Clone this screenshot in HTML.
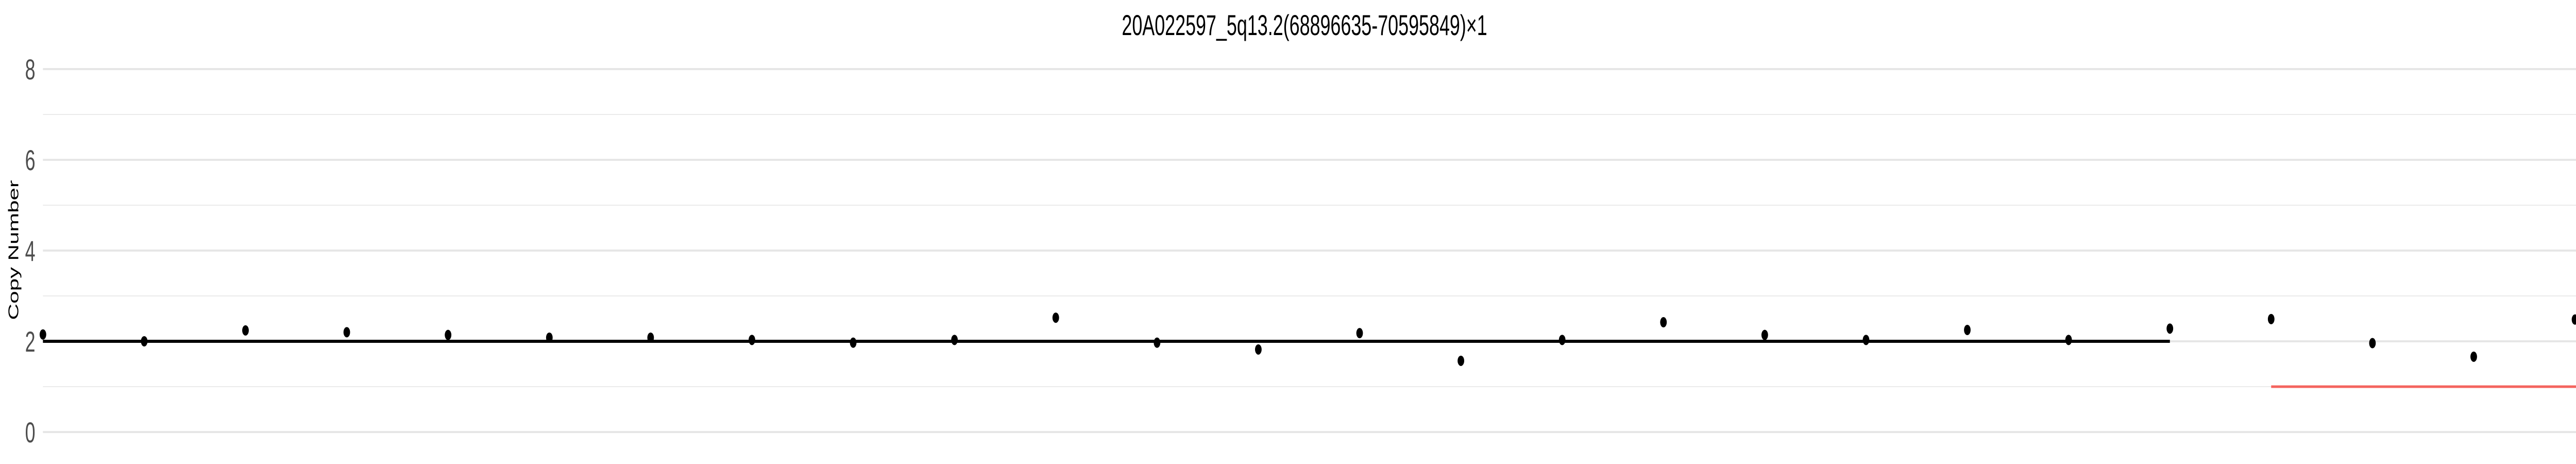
<!DOCTYPE html>
<html><head><meta charset="utf-8"><style>
html,body{margin:0;padding:0;background:#fff;overflow:hidden;width:100%;height:100%;}
svg{display:block;font-family:"Liberation Sans",Arial,sans-serif;width:100vw;height:100vh;}
</style></head><body>
<svg id="chart" viewBox="0 0 7800 900" preserveAspectRatio="none">
<text x="3950" y="68" font-size="56" text-anchor="middle" fill="#000">20A022597_5q13.2(68896635-70595849)×1</text>
<text transform="translate(55,485) rotate(-90)" font-size="44" text-anchor="middle" fill="#000">Copy Number</text>
<g id="grid"></g>
<g id="yticks"></g>
<g id="segs"></g>
<g id="pts"></g>
</svg>
<script>
const yTicks = [0, 2, 4, 6, 8];
const yMinor = [1, 3, 5, 7];
const pointValues = [2.15, 2.0, 2.24, 2.2, 2.14, 2.08, 2.08, 2.03, 1.97, 2.03, 2.52, 1.97, 1.82, 2.18, 1.57, 2.03, 2.42, 2.14, 2.03, 2.25, 2.03, 2.28, 2.49, 1.96, 1.66, 2.48];
const segStart = [0, 22];
const segEnd = [21, 25];
const segValue = [2, 1];
const segColor = ["#000000", "#f4645e"];

const NS = "http://www.w3.org/2000/svg";
const L = 130, R = 7797, Y0 = 838, Y8 = 134;
const n = pointValues.length;
const x = i => L + i * (R - L) / (n - 1);
const y = v => Y0 + (Y8 - Y0) * v / 8;
function mk(tag, attrs, parent) {
  const e = document.createElementNS(NS, tag);
  for (const a in attrs) e.setAttribute(a, attrs[a]);
  parent.appendChild(e);
  return e;
}
const grid = document.getElementById('grid');
yMinor.forEach(v => {
  const l = mk('line', {x1: L, x2: 7800, y1: y(v), y2: y(v), stroke: '#ebebeb', 'stroke-width': 2}, grid);
  
  
});
const yt = document.getElementById('yticks');
yTicks.forEach(v => {
  const l = mk('line', {x1: L, x2: 7800, y1: y(v), y2: y(v), stroke: '#e6e6e6', 'stroke-width': 4}, grid);
  
  
  const t = mk('text', {x: 107, y: y(v) + 20, 'font-size': 56, 'text-anchor': 'end', fill: '#4d4d4d'}, yt);
  t.textContent = v;
  
  
});
const sg = document.getElementById('segs');
segValue.forEach((v, i) => {
  const x2 = segEnd[i] >= n - 1 ? 7800 : x(segEnd[i]);
  const l = mk('line', {x1: x(segStart[i]), x2: x2, y1: y(v), y2: y(v), stroke: segColor[i], 'stroke-width': i === 0 ? 6 : 5}, sg);
  
  
});
const pg = document.getElementById('pts');
pointValues.forEach((v, i) => {
  const c = mk('circle', {cx: x(i), cy: y(v), r: 10, fill: '#000'}, pg);
  
  
});
</script>
</body></html>
